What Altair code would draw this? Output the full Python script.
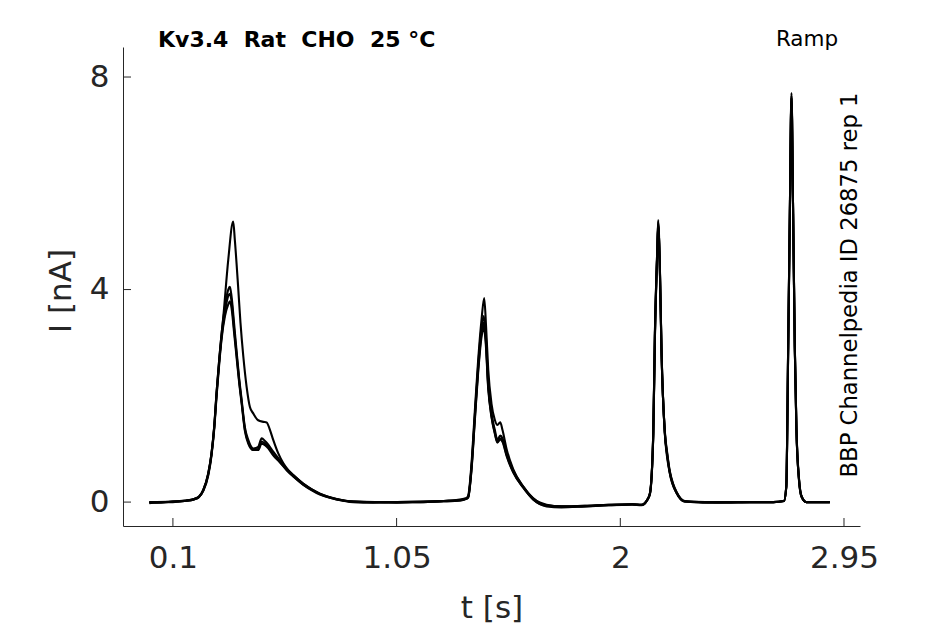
import altair as alt
import pandas as pd

# ---- data (t in s, I in nA) ----
t_bulk = [0.000, 0.050, 0.100, 0.150, 0.190, 0.210, 0.229, 0.250, 0.264, 0.275,
          0.286, 0.297, 0.307, 0.321, 0.335, 0.342, 0.349, 0.360, 0.370, 0.381,
          0.392, 0.406, 0.420, 0.441, 0.462, 0.477, 0.491, 0.505, 0.526, 0.554,
          0.583, 0.611, 0.653, 0.690, 0.724, 0.760, 0.795, 0.866, 0.950, 1.050,
          1.150, 1.250, 1.320, 1.345, 1.354, 1.368, 1.382, 1.396, 1.411, 1.420,
          1.428, 1.439, 1.453, 1.467, 1.478, 1.490, 1.500, 1.517, 1.545, 1.588,
          1.630, 1.687, 1.750, 1.850, 1.950, 2.050, 2.090, 2.115, 2.126, 2.140,
          2.147, 2.157, 2.161, 2.168, 2.175, 2.189, 2.200, 2.210, 2.224, 2.239,
          2.274, 2.350, 2.450, 2.550, 2.650, 2.695, 2.705, 2.713, 2.720, 2.727,
          2.734, 2.741, 2.748, 2.759, 2.770, 2.790, 2.890]

i_bulk_a = [-0.01, 0.00, 0.01, 0.03, 0.06, 0.10, 0.23, 0.54, 0.92, 1.40,
            2.10, 2.70, 3.18, 3.68, 4.00, 4.05, 3.87, 3.35, 2.86, 2.35,
            1.92, 1.40, 1.17, 1.01, 1.04, 1.20, 1.15, 1.08, 0.95, 0.79,
            0.63, 0.51, 0.35, 0.24, 0.16, 0.10, 0.06, 0.01, 0.00, 0.00,
            0.00, 0.02, 0.04, 0.07, 0.10, 0.66, 1.61, 2.55, 3.30, 3.50,
            3.20, 2.23, 1.67, 1.36, 1.17, 1.25, 1.20, 0.92, 0.60, 0.29,
            0.07, -0.06, -0.08, -0.07, -0.05, -0.04, -0.05, 0.05, 0.17, 1.30,
            3.18, 4.75, 5.28, 4.43, 2.86, 1.30, 0.85, 0.55, 0.32, 0.17,
            0.01, 0.00, 0.00, 0.00, 0.00, 0.02, 0.30, 2.92, 5.43, 7.65,
            5.43, 2.92, 1.36, 0.41, 0.10, 0.00, 0.00]

i_bulk_b = [-0.02, 0.00, 0.00, 0.02, 0.05, 0.09, 0.22, 0.52, 0.90, 1.38,
            2.06, 2.66, 3.12, 3.58, 3.88, 3.92, 3.78, 3.25, 2.80, 2.30,
            1.88, 1.36, 1.13, 0.98, 1.00, 1.14, 1.10, 1.04, 0.90, 0.76,
            0.61, 0.49, 0.33, 0.23, 0.15, 0.09, 0.05, 0.00, -0.01, 0.00,
            0.01, 0.02, 0.03, 0.06, 0.09, 0.62, 1.56, 2.48, 3.20, 3.38,
            3.10, 2.18, 1.62, 1.31, 1.13, 1.20, 1.16, 0.89, 0.57, 0.27,
            0.05, -0.08, -0.10, -0.08, -0.06, -0.05, -0.06, 0.04, 0.15, 1.25,
            3.12, 4.70, 5.22, 4.38, 2.82, 1.34, 0.90, 0.59, 0.35, 0.19,
            0.02, 0.00, -0.01, 0.00, 0.00, 0.02, 0.28, 2.88, 5.40, 7.60,
            5.45, 2.96, 1.40, 0.44, 0.11, 0.00, 0.00]

i_bulk_c = [0.00, -0.01, 0.01, 0.02, 0.05, 0.09, 0.21, 0.50, 0.88, 1.35,
            2.02, 2.62, 3.08, 3.50, 3.72, 3.78, 3.65, 3.18, 2.74, 2.26,
            1.85, 1.33, 1.10, 0.98, 0.98, 1.10, 1.07, 1.01, 0.88, 0.75,
            0.60, 0.48, 0.33, 0.22, 0.14, 0.09, 0.05, 0.01, 0.00, -0.01,
            0.00, 0.01, 0.03, 0.06, 0.09, 0.60, 1.52, 2.42, 3.12, 3.28,
            3.02, 2.14, 1.60, 1.29, 1.12, 1.18, 1.13, 0.87, 0.56, 0.27,
            0.05, -0.07, -0.09, -0.08, -0.06, -0.04, -0.05, 0.04, 0.16, 1.27,
            3.10, 4.68, 5.20, 4.40, 2.84, 1.32, 0.88, 0.57, 0.34, 0.18,
            0.01, -0.01, 0.00, 0.00, 0.00, 0.02, 0.29, 2.90, 5.38, 7.62,
            5.42, 2.94, 1.38, 0.43, 0.10, 0.00, 0.00]

t_out = [0.000, 0.100, 0.190, 0.210, 0.229, 0.250, 0.264, 0.275, 0.286, 0.297,
         0.307, 0.314, 0.335, 0.356, 0.363, 0.377, 0.387, 0.399, 0.413, 0.427,
         0.441, 0.462, 0.484, 0.498, 0.512, 0.526, 0.547, 0.569, 0.590, 0.611,
         0.653, 0.724, 0.795, 0.866, 1.050, 1.250, 1.345, 1.354, 1.368, 1.382,
         1.396, 1.411, 1.422, 1.430, 1.439, 1.453, 1.467, 1.478, 1.490, 1.500,
         1.517, 1.545, 1.588, 1.630, 1.687, 1.750, 1.850, 1.950, 2.050, 2.090,
         2.115, 2.126, 2.140, 2.147, 2.157, 2.161, 2.168, 2.175, 2.189, 2.210,
         2.239, 2.274, 2.450, 2.650, 2.695, 2.705, 2.713, 2.720, 2.727, 2.734,
         2.741, 2.748, 2.759, 2.770, 2.790, 2.890]

i_out = [0.00, 0.01, 0.06, 0.10, 0.23, 0.54, 0.92, 1.40, 2.10, 2.70,
         3.18, 3.49, 4.56, 5.28, 4.93, 4.05, 3.37, 2.74, 2.17, 1.79,
         1.67, 1.54, 1.51, 1.50, 1.36, 1.17, 0.92, 0.73, 0.60, 0.51,
         0.35, 0.16, 0.06, 0.01, 0.00, 0.02, 0.07, 0.12, 0.72, 1.70,
         2.65, 3.45, 3.84, 3.30, 2.50, 1.85, 1.55, 1.45, 1.50, 1.35,
         1.00, 0.62, 0.29, 0.07, -0.05, -0.08, -0.07, -0.05, -0.04, -0.05,
         0.05, 0.17, 1.30, 3.18, 4.75, 5.31, 4.43, 2.86, 1.30, 0.55,
         0.17, 0.01, 0.00, 0.00, 0.02, 0.30, 2.92, 5.45, 7.70, 5.43,
         2.92, 1.36, 0.41, 0.10, 0.00, 0.00]

x_ticks = [0.1, 1.05, 2, 2.95]
y_ticks = [0, 4, 8]

title_text = "Kv3.4\u00a0\u00a0Rat\u00a0\u00a0CHO\u00a0\u00a025 °C"
protocol_text = "Ramp"
side_text = "BBP Channelpedia ID 26875 rep 1"

# ---- build table ----
rows = []
for name, ts, vs in [("out", t_out, i_out), ("a", t_bulk, i_bulk_a),
                     ("b", t_bulk, i_bulk_b), ("c", t_bulk, i_bulk_c)]:
    for t, v in zip(ts, vs):
        rows.append({"trace": name, "t": t, "I": v})
df = pd.DataFrame(rows)

W, H = 737, 479
FONT = "DejaVu Sans"
AXC = "#262626"

xscale = alt.Scale(domain=[-0.112, 3.018], nice=False, zero=False)
yscale = alt.Scale(domain=[-0.45, 8.565], nice=False, zero=False)

lines = alt.Chart(df).mark_line(color="black", strokeWidth=2.1,
                                interpolate="monotone",
                                strokeJoin="round").encode(
    x=alt.X("t:Q", scale=xscale,
            axis=alt.Axis(values=x_ticks, labelExpr="format(datum.value, '.3~g')",
                          title="t [s]", labelPadding=17, titleY=82,
                          titleBaseline="middle")),
    y=alt.Y("I:Q", scale=yscale,
            axis=alt.Axis(values=y_ticks, labelExpr="format(datum.value, '.3~g')",
                          title="I [nA]", labelPadding=14, titleX=-62,
                          titleY=H / 2 + 4, titleAngle=270, titleAlign="center",
                          titleBaseline="middle")),
    detail="trace:N",
)

xt = alt.Chart(pd.DataFrame({"v": x_ticks})).mark_rule(color=AXC, strokeWidth=1).encode(
    x=alt.X("v:Q", scale=xscale), y=alt.value(H), y2=alt.value(H - 8))
yt = alt.Chart(pd.DataFrame({"v": y_ticks})).mark_rule(color=AXC, strokeWidth=1).encode(
    y=alt.Y("v:Q", scale=yscale), x=alt.value(0), x2=alt.value(8))

title_mark = alt.Chart(pd.DataFrame({"s": [title_text]})).mark_text(
    font=FONT, fontSize=22, fontWeight="bold", color="black",
    align="left", baseline="middle").encode(
    text="s:N", x=alt.value(35), y=alt.value(-7))
proto_mark = alt.Chart(pd.DataFrame({"s": [protocol_text]})).mark_text(
    font=FONT, fontSize=21.5, color="black",
    align="center", baseline="middle").encode(
    text="s:N", x=alt.value(684), y=alt.value(-7))
side_mark = alt.Chart(pd.DataFrame({"s": [side_text]})).mark_text(
    font=FONT, fontSize=22.7, color="black", angle=270,
    align="center", baseline="middle").encode(
    text="s:N", x=alt.value(727), y=alt.value(238))

chart = alt.layer(lines, xt, yt, title_mark, proto_mark, side_mark).properties(
    width=W, height=H,
    autosize=alt.AutoSizeParams(type="none"),
    padding={"left": 115, "top": 39, "right": 70, "bottom": 99},
).configure_view(stroke=None).configure_axis(
    grid=False, ticks=False, tickSize=0, domainColor=AXC, domainWidth=1,
    labelFont=FONT, labelFontSize=31, labelColor=AXC,
    titleFont=FONT, titleFontSize=31, titleFontWeight="normal", titleColor=AXC,
)

chart.save("out.html", embed_options={"renderer": "svg", "actions": False})
